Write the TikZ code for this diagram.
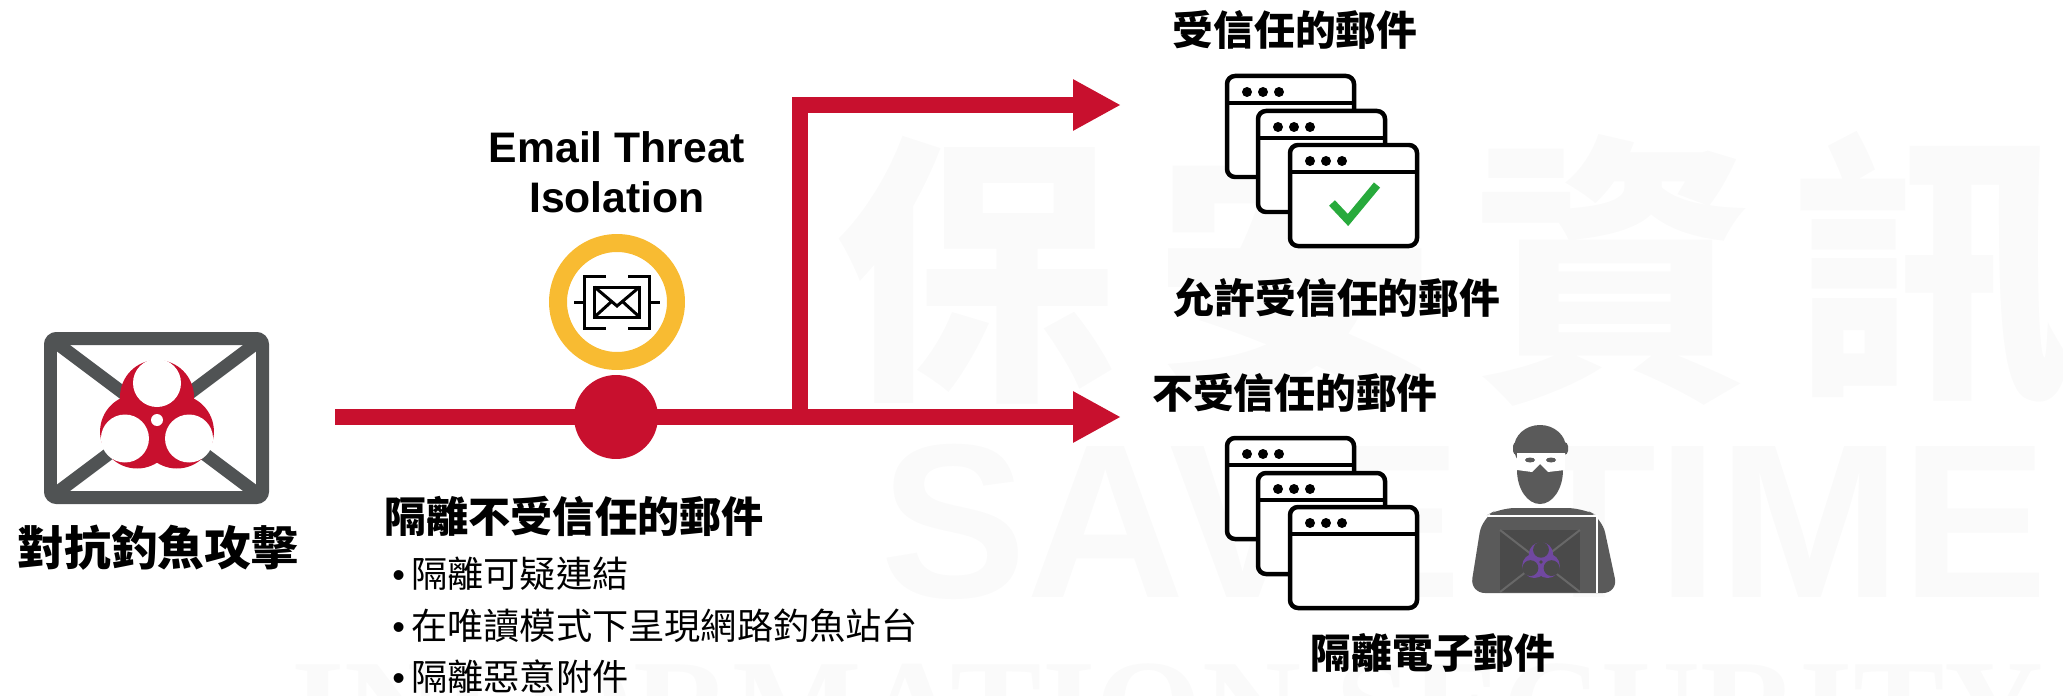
\documentclass[tikz,border=0pt]{standalone}
\usepackage{fontspec}
\setmainfont{Liberation Sans}
\newfontfamily\cjk{Noto Sans CJK TC}
\newfontfamily\markserif{Liberation Serif}
\usetikzlibrary{arrows.meta}

\definecolor{alertred}{RGB}{200,16,46}
\definecolor{envgray}{RGB}{80,83,84}
\definecolor{ringyellow}{RGB}{248,187,50}
\definecolor{okgreen}{RGB}{40,170,60}
\definecolor{hackgray}{RGB}{90,90,90}
\definecolor{lapgray}{RGB}{74,74,74}
\definecolor{lapline}{RGB}{104,104,104}
\definecolor{hazpurple}{RGB}{112,72,160}
\definecolor{markgray}{RGB}{250,250,250}

\tikzset{
  flow/.style={alertred, line width=0.32cm, -{Triangle[length=0.96cm, width=0.96cm]}},
  head/.style={font=\cjk\bfseries\fontsize{23.2}{26}\selectfont},
  item/.style={font=\cjk\fontsize{20.6}{24}\selectfont, anchor=west, inner sep=0pt},
  winline/.style={line width=0.09cm, rounded corners=0.16cm},
  wmark/.style={font=\cjk\bfseries\fontsize{161}{170}\selectfont, text=markgray},
}

% biohazard sign: centre, scale, colour, colour of the cut-outs
\newcommand\biohaz[4]{%
  \begin{scope}[shift={(#1)}, scale=#2]
    \foreach \a in {270, 30, 150} \fill[#3] (\a:23) circle (37);
    \foreach \a in {270, 30, 150} \fill[#4] (\a:37) circle (24);
    \fill[#4] (0, 0) circle (6);
  \end{scope}}

% browser window, top left corner at (#1, #2)
\newcommand\browserwin[2]{%
  \draw[winline, fill=white] (#1, #2) rectangle ++(127, 101);
  \draw[line width=0.09cm] (#1, #2+27) -- ++(127, 0);
  \foreach \d in {20, 36, 52} \fill (#1+\d, #2+16) circle (5);}

\newcommand\bul{\makebox[0.38cm][l]{\rmfamily\textbullet}}

\begin{document}
\begin{tikzpicture}[x=0.02cm, y=-0.02cm]
\useasboundingbox (0, 0) rectangle (2063, 696);

\foreach \c [count=\i from 0] in {保, 安, 資, 訊}
  \node[wmark] at (976 + 319*\i, 270) (wm\i) {\c};
\node[font=\bfseries\fontsize{125}{130}\selectfont, text=markgray, anchor=base west] at (874, 597) (wmsave) {SAVE TIME};
\node[font=\markserif\bfseries\fontsize{78}{80}\selectfont, text=markgray, anchor=base west] at (285, 754) (wminfo) {INFORMATION SECURITY};

% phishing mail
\draw[envgray, line width=0.26cm, rounded corners=0.12cm] (50.5, 338.5) rectangle (262.5, 497.5);
\draw[envgray, line width=0.26cm] (50.5, 338.5) -- (262.5, 497.5) (262.5, 338.5) -- (50.5, 497.5);
\biohaz{157, 420}{1}{alertred}{white}
\node[font=\cjk\bfseries\fontsize{26.6}{30}\selectfont] at (158, 548) (fight) {對抗釣魚攻擊};

% mail flow
\coordinate (feed) at (335, 417);
\coordinate (fork) at (800, 425);
\coordinate (hightip) at (1121, 105);
\coordinate (lowtip) at (1121, 417);
\draw[flow] (feed) -- (lowtip);
\draw[flow, line join=miter] (fork) |- (hightip);
\node[circle, fill=alertred, minimum size=1.68cm, inner sep=0pt] at (616, 417) (hub) {};

\node[font=\bfseries\fontsize{24.3}{28.3}\selectfont, align=center] at (617, 172) (eti) {Email Threat\\Isolation};
\node[circle, draw=ringyellow, line width=0.36cm, minimum size=2.36cm, inner sep=0pt] at (617, 302) (iso) {};
\begin{scope}[shift={(iso.center)}, line width=0.06cm]
  \draw (-11, -26) -- (-32.5, -26) -- (-32.5, 26) -- (-11, 26) (-32.5, 0) -- (-43, 0);
  \draw (11, -26) -- (32.5, -26) -- (32.5, 26) -- (11, 26) (32.5, 0) -- (43, 0);
  \draw (-22.5, -15) rectangle (22.5, 15);
  \draw (-22.5, -15) -- (0, 4) -- (22.5, -15) (-22.5, 15) -- (-6, 0) (22.5, 15) -- (6, 0);
\end{scope}

\node[head, font=\cjk\bfseries\fontsize{24}{27}\selectfont] at (574, 516) (quar) {隔離不受信任的郵件};
\node[item] at (392, 574) (b1) {\bul 隔離可疑連結};
\node[item] at (392, 626) (b2) {\bul 在唯讀模式下呈現網路釣魚站台};
\node[item] at (392, 677) (b3) {\bul 隔離惡意附件};

% trusted mail
\node[head] at (1295, 30) (trusted) {受信任的郵件};
\browserwin{1227}{76}
\browserwin{1258}{111}
\browserwin{1290}{145}
\draw[okgreen, line width=0.16cm] (1332, 203) -- (1348, 220) -- (1377, 185);
\node[head] at (1337, 298) (allow) {允許受信任的郵件};

% untrusted mail
\node[head] at (1295, 393) (untrusted) {不受信任的郵件};
\browserwin{1227}{438}
\browserwin{1258}{473}
\browserwin{1290}{507}

% attacker
\fill[hackgray, rounded corners=0.3cm] (1470, 593) -- (1482, 518) -- (1500, 508) -- (1582, 508) -- (1602, 518) -- (1618, 593) -- cycle;
\draw[white, line width=0.05cm] (1488, 516) -- (1597, 516) -- (1597, 593);
\fill[hackgray] (1540, 470) ellipse (23 and 34);
\fill[hackgray] (1540, 448) ellipse (26 and 23);
\fill[hackgray, rounded corners=0.08cm] (1513, 442) rectangle (1568, 455);
\fill[white] (1517, 453) -- (1565, 453) -- (1565, 470) -- (1548, 472) -- (1540, 464) -- (1532, 472) -- (1517, 470) -- cycle;
\fill[hackgray] (1530, 460) ellipse (5 and 2.5) (1551, 460) ellipse (5 and 2.5);
\fill[lapgray] (1500, 530) rectangle (1580, 592);
\draw[lapline, line width=0.04cm] (1500, 530) -- (1580, 592) (1580, 530) -- (1500, 592);
\biohaz{1541, 562}{0.33}{hazpurple}{lapgray}
\node[head] at (1433, 653) (isolate) {隔離電子郵件};
\end{tikzpicture}
\end{document}
